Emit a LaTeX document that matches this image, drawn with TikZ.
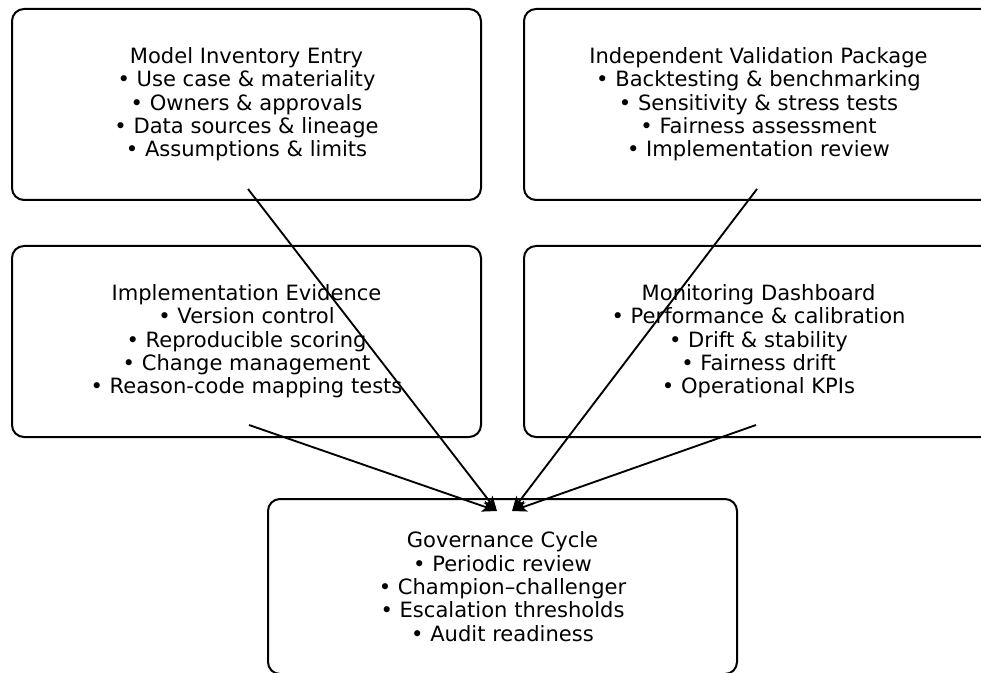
\documentclass[tikz,border=0pt]{standalone}
\usepackage{fontspec}
\setmainfont{DejaVu Sans}
\usetikzlibrary{arrows.meta,calc}
\tikzset{
    card/.style={draw, line width=1.5pt, rounded corners=9pt, align=center,
        minimum width=351.75pt, font=\fontsize{15.8}{17.5}\selectfont},
    flow/.style={-{Stealth[length=11pt,width=8.5pt,inset=2.5pt]}, line width=1.4pt}
}
\begin{document}
\begin{tikzpicture}[x=0.75pt,y=-0.75pt]
    \useasboundingbox (0,0) rectangle (981,673);
    \clip (0,0) rectangle (981,673);

    \node[card, minimum height=143.25pt] (inv) at (246.5,104.5)
        {Model Inventory Entry\\• Use case \& materiality\\• Owners \& approvals\\• Data sources \& lineage\\• Assumptions \& limits};
    \node[card, minimum height=143.25pt] (val) at (758.5,104.5)
        {Independent Validation Package\\• Backtesting \& benchmarking\\• Sensitivity \& stress tests\\• Fairness assessment\\• Implementation review};
    \node[card, minimum height=143.25pt] (impl) at (246.5,341.5)
        {Implementation Evidence\\• Version control\\• Reproducible scoring\\• Change management\\• Reason-code mapping tests};
    \node[card, minimum height=143.25pt] (mon) at (758.5,341.5)
        {Monitoring Dashboard\\• Performance \& calibration\\• Drift \& stability\\• Fairness drift\\• Operational KPIs};

    \node[card, minimum height=131.25pt] (gov) at (502.5,586.5)
        {Governance Cycle\\• Periodic review\\• Champion–challenger\\• Escalation thresholds\\• Audit readiness};

    \draw[flow] ($(inv.south)+(1.5,-12)$) -- ($(gov.north)+(-5.5,13)$);
    \draw[flow] ($(val.south)+(-1.5,-12)$) -- ($(gov.north)+(9.5,13)$);
    \draw[flow] ($(impl.south)+(2.5,-13)$) -- ($(gov.north)+(-5.5,13)$);
    \draw[flow] ($(mon.south)+(-2.5,-13)$) -- ($(gov.north)+(9.5,13)$);
\end{tikzpicture}
\end{document}
